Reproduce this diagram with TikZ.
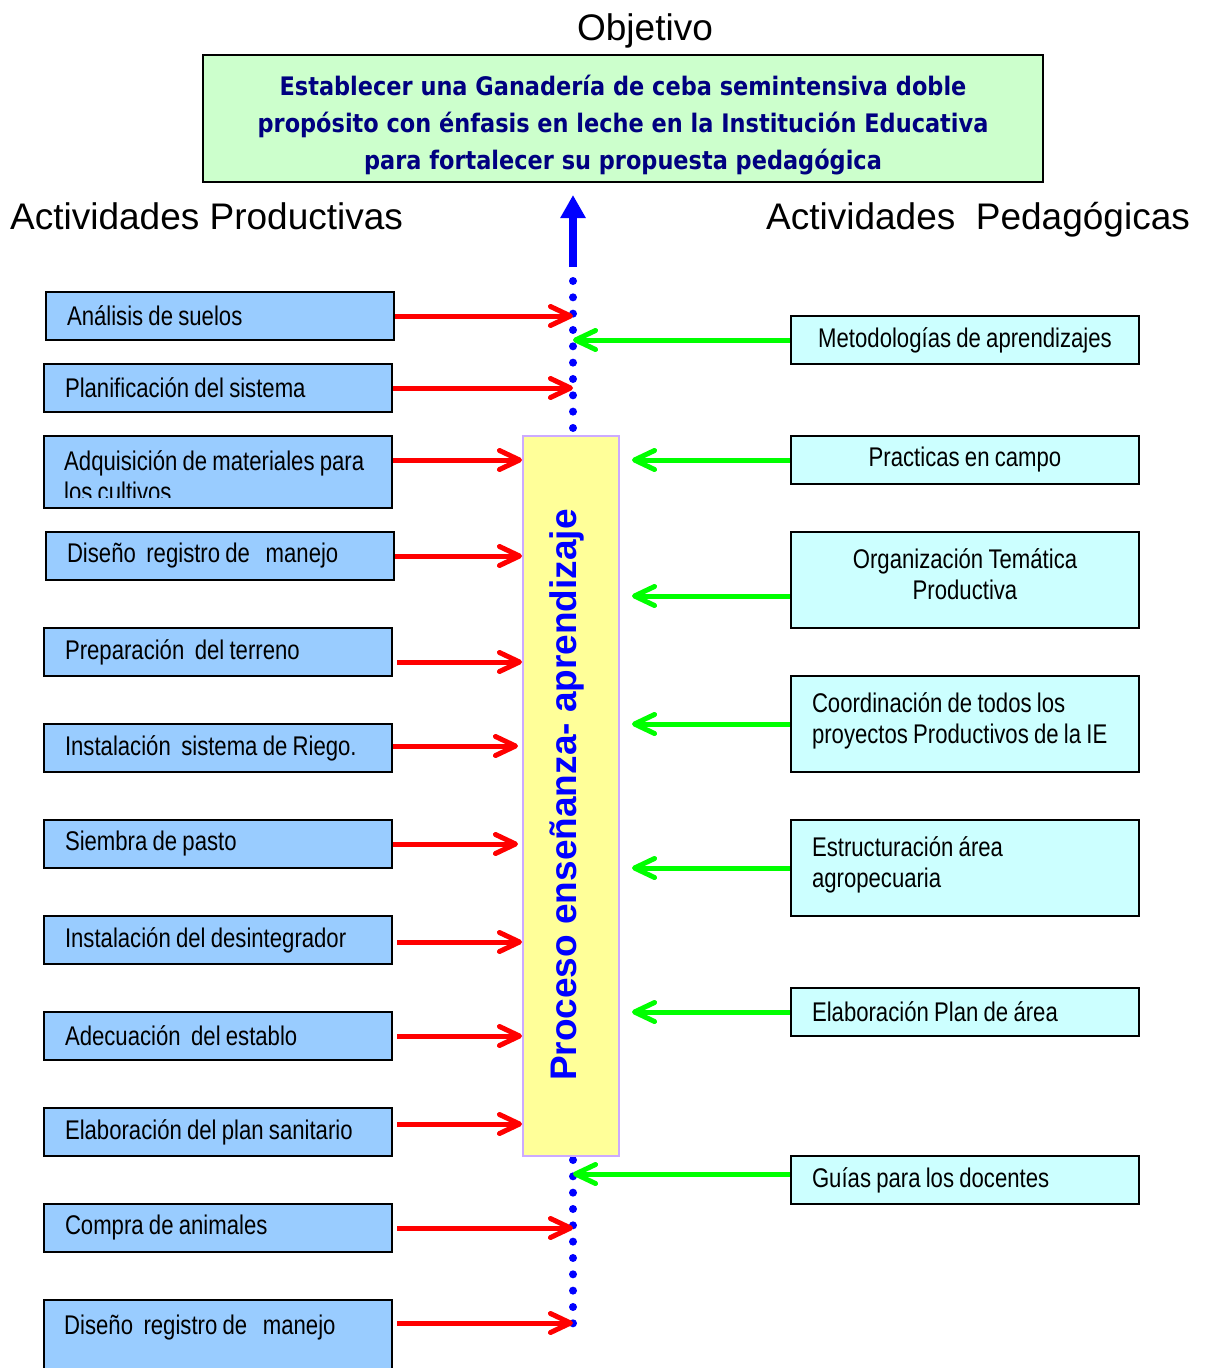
\documentclass[tikz,border=0pt]{standalone}
\usepackage{fontspec}
\setmainfont{Liberation Sans}
\newfontfamily\narrowfont[FakeStretch=0.82,WordSpace=0.85]{Liberation Sans}
\newfontfamily\objfont[FakeStretch=0.88]{DejaVu Sans}
\usetikzlibrary{arrows.meta,calc}
\definecolor{objgreen}{RGB}{204,255,204}
\definecolor{navytext}{RGB}{0,0,128}
\definecolor{lblue}{RGB}{153,204,255}
\definecolor{lcyan}{RGB}{204,255,255}
\definecolor{pyellow}{RGB}{255,255,153}
\definecolor{lavender}{RGB}{204,170,255}
\definecolor{pred}{RGB}{255,0,0}
\definecolor{pgreen}{RGB}{0,255,0}
\definecolor{pblue}{RGB}{0,0,255}
\begin{document}
\begin{tikzpicture}[x=1pt,y=-1pt,
  boxtext/.style={font=\narrowfont\fontsize{27}{31}\selectfont,
    execute at begin node={\spaceskip=\fontdimen2\font\relax}},
  basebox/.style={draw=black, line width=2pt, anchor=north west,
    minimum width=348pt, minimum height=48pt, inner xsep=20pt, inner ysep=0pt,
    text width=306pt, align=left, boxtext},
  lbox/.style={basebox, fill=lblue},
  rbox/.style={basebox, fill=lcyan},
  raised/.style={execute at end node={\rule[-12pt]{0pt}{12pt}}},
  title/.style={font=\fontsize{37}{40}\selectfont, inner sep=0pt},
  redarr/.style={draw=pred, line width=5pt,
    -{Straight Barb[length=20pt,width=19pt,round]}},
  greenarr/.style={draw=pgreen, line width=5pt,
    -{Straight Barb[length=20pt,width=19pt,round]}},
  bluearr/.style={draw=pblue, line width=8pt, -{Triangle[length=23pt,width=24pt]}},
  dotline/.style={draw=pblue, line width=8pt, line cap=round, dash pattern=on 0pt off 16.33pt},
]
\useasboundingbox (0,0) rectangle (1205,1368);

% titles
\node[title, anchor=base] (tobj) at (645,40) {Objetivo};
\node[title, anchor=base west] (tprod) at (10,229) {Actividades Productivas};
\node[title, anchor=base west] (tped) at (766,229) {Actividades\ \ Pedagógicas};

% objective box
\node[draw=black, line width=2pt, fill=objgreen, anchor=north west,
      minimum width=840pt, minimum height=127pt, inner sep=0pt,
      align=center, text=navytext,
      font=\objfont\bfseries\fontsize{25.5}{37}\selectfont] (obj) at (202,54)
  {\rule{0pt}{34pt}Establecer una Ganadería de ceba semintensiva doble\\
   propósito con énfasis en leche en la Institución Educativa\\
   para fortalecer su propuesta pedagógica};

% central axis
\coordinate (axis) at (573,0);
\coordinate (bstart) at (573,267);
\coordinate (btip) at (573,195);
\coordinate (dtopa) at (573,281);
\coordinate (dtopb) at (573,429);
\coordinate (dbota) at (573,1160);
\coordinate (dbotb) at (573,1324);
\draw[bluearr] (bstart) -- (btip);
\draw[dotline] (dtopa) -- (dtopb);
\draw[dotline] (dbota) -- (dbotb);

% central process box
\node[draw=lavender, line width=2pt, fill=pyellow, anchor=north west,
      minimum width=96pt, minimum height=720pt] (yb) at (522,435) {};
\node[rotate=90, inner sep=0pt, text=pblue,
      font=\bfseries\fontsize{37}{40}\selectfont] (ptext) at (567,795)
  {Proceso enseñanza- aprendizaje};
\coordinate (ybr) at ($(yb.east)+(12,0)$);

% left boxes
\node[lbox] (l1) at (45,291) {Análisis de suelos};
\node[lbox] (l2) at (43,363) {Planificación del sistema};
\node[lbox, minimum height=72pt] (l3) at (43,435) {};
\begin{scope}
  \clip (l3.north west) rectangle ($(l3.south east)+(0,-12)$);
  \node[boxtext, anchor=base west, inner sep=0pt, text width=306pt, align=left] (t3) at (64,470)
    {Adquisición de materiales para\\los cultivos};
\end{scope}
\node[lbox] (l4) at (45,531) {Diseño\ \ registro de\ \ \ manejo};
\node[lbox] (l5) at (43,627) {Preparación\ \ del terreno};
\node[lbox] (l6) at (43,723) {Instalación\ \ sistema de Riego.};
\node[lbox] (l7) at (43,819) {Siembra de pasto};
\node[lbox] (l8) at (43,915) {Instalación del desintegrador};
\node[lbox] (l9) at (43,1011) {Adecuación\ \ del establo};
\node[lbox] (l10) at (43,1107) {Elaboración del plan sanitario};
\node[lbox] (l11) at (43,1203) {Compra de animales};
\node[lbox, minimum height=110pt] (l12) at (43,1299) {};
\node[boxtext, anchor=base west, inner sep=0pt] (t12) at (64,1334)
  {Diseño\ \ registro de\ \ \ manejo};

% right boxes
\node[rbox, align=center] (r1) at (790,315) {Metodologías de aprendizajes};
\node[rbox, align=center] (r2) at (790,435) {Practicas en campo};
\node[rbox, align=center, minimum height=96pt, raised] (r3) at (790,531)
  {Organización Temática\\Productiva};
\node[rbox, minimum height=96pt, raised] (r4) at (790,675)
  {Coordinación de todos los\\proyectos Productivos de la IE};
\node[rbox, minimum height=96pt, raised] (r5) at (790,819)
  {Estructuración área\\agropecuaria};
\node[rbox] (r6) at (790,987) {Elaboración Plan de área};
\node[rbox] (r7) at (790,1155) {Guías para los docentes};

% red arrows
\coordinate (a1) at (l1.east);
\coordinate (a2) at (l2.east);
\coordinate (a3) at ($(l3.east)+(0,-12)$);
\coordinate (a4) at (l4.east);
\coordinate (a5) at ($(l5.east)+(4,10)$);
\coordinate (a6) at ($(l6.east)+(0,-2)$);
\coordinate (a7) at (l7.east);
\coordinate (a8) at ($(l8.east)+(4,2)$);
\coordinate (a9) at ($(l9.east)+(4,0)$);
\coordinate (a10) at ($(l10.east)+(4,-8)$);
\coordinate (a11) at ($(l11.east)+(4,0)$);
\coordinate (a12) at ($(l12.north east)+(4,24)$);
\draw[redarr] (a1) -- (a1 -| axis);
\draw[redarr] (a2) -- (a2 -| axis);
\draw[redarr] (a3) -- (a3 -| yb.west);
\draw[redarr] (a4) -- (a4 -| yb.west);
\draw[redarr] (a5) -- (a5 -| yb.west);
\draw[redarr] (a6) -- ($(a6 -| yb.west)+(-4,0)$);
\draw[redarr] (a7) -- ($(a7 -| yb.west)+(-4,0)$);
\draw[redarr] (a8) -- (a8 -| yb.west);
\draw[redarr] (a9) -- (a9 -| yb.west);
\draw[redarr] (a10) -- (a10 -| yb.west);
\draw[redarr] (a11) -- (a11 -| axis);
\draw[redarr] (a12) -- (a12 -| axis);

% green arrows
\coordinate (g3) at ($(r3.west)+(0,16)$);
\coordinate (g7) at ($(r7.west)+(0,-6)$);
\draw[greenarr] (r1.west) -- (r1.west -| axis);
\draw[greenarr] (r2.west) -- (r2.west -| ybr);
\draw[greenarr] (g3) -- (g3 -| ybr);
\draw[greenarr] (r4.west) -- (r4.west -| ybr);
\draw[greenarr] (r5.west) -- (r5.west -| ybr);
\draw[greenarr] (r6.west) -- (r6.west -| ybr);
\draw[greenarr] (g7) -- (g7 -| axis);
\end{tikzpicture}
\end{document}
